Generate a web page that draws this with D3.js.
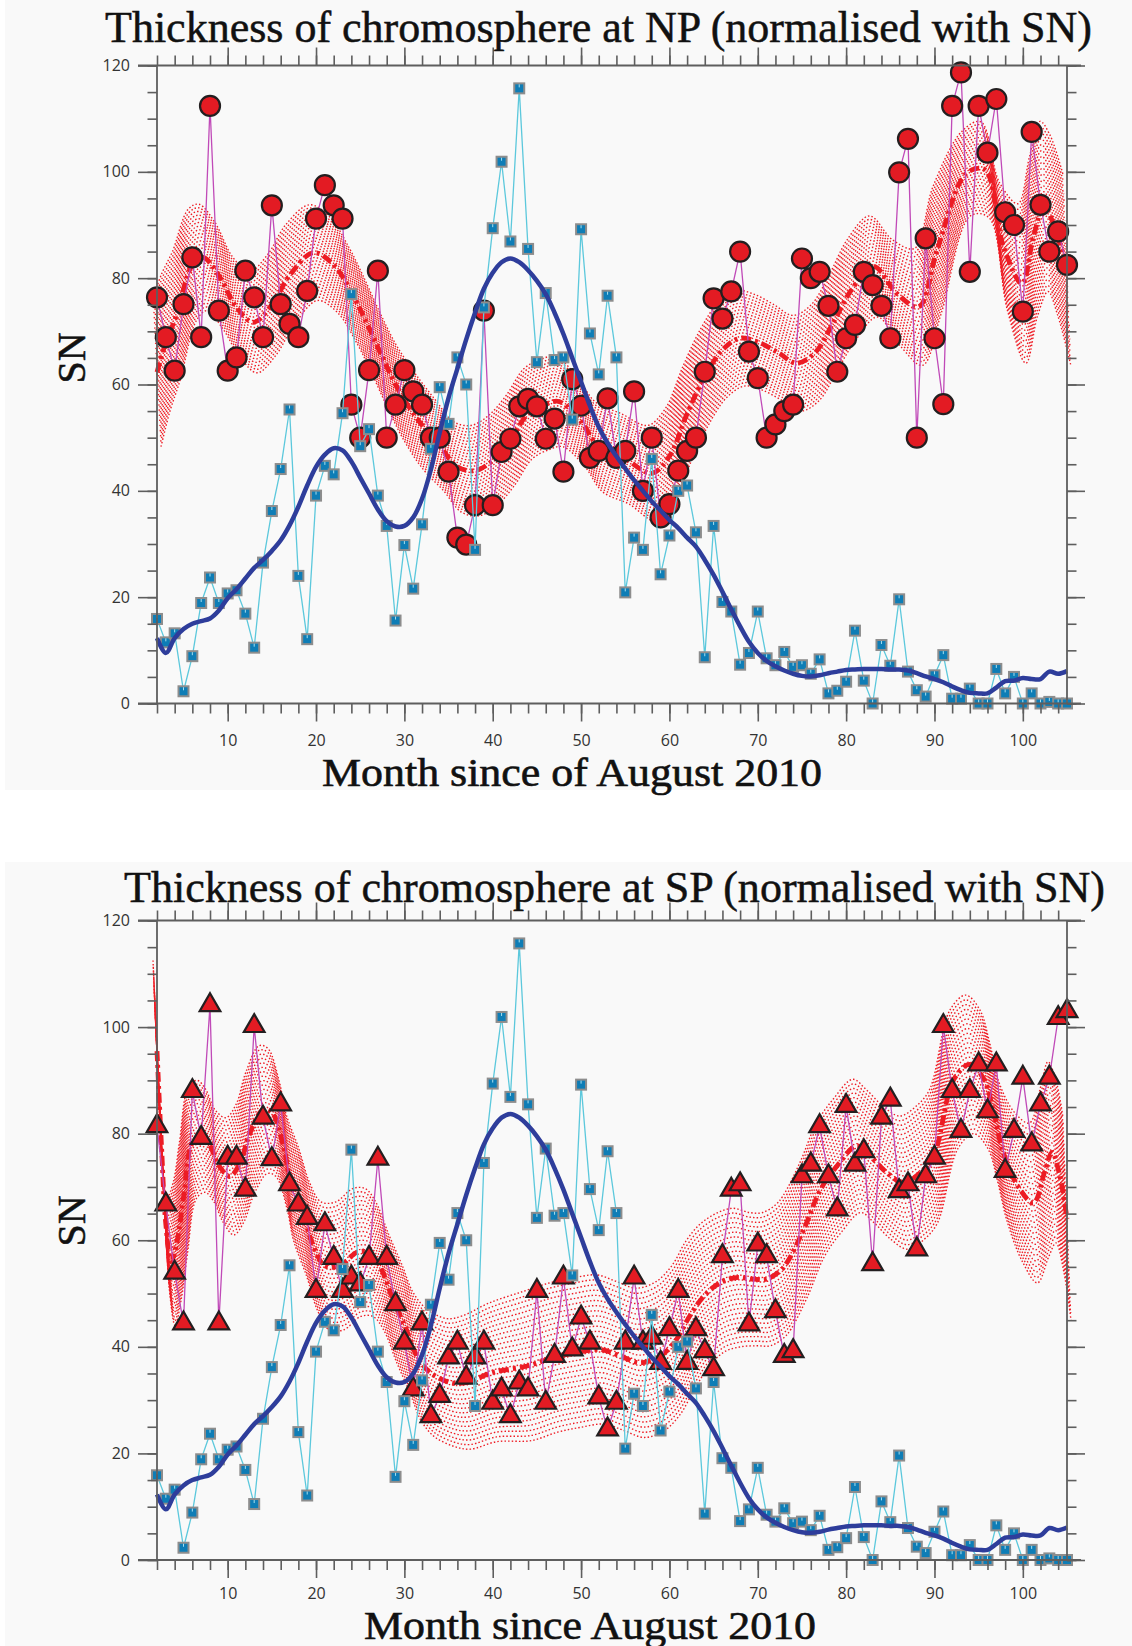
<!DOCTYPE html>
<html>
<head>
<meta charset="utf-8">
<script src="https://cdn.jsdelivr.net/npm/d3@7"></script>
<style>
  body { margin: 0; background: #ffffff; }
</style>
</head>
<body>
<div id="chart"></div>
<script>
// months since August 2010 (x values of every monthly point)
var months = d3.range(2, 106);

// sunspot number, shared by both panels
var snVals = [15.9, 11.5, 13.2, 2.3, 8.9, 18.9, 23.7, 18.9, 20.7, 21.3,
  16.9, 10.5, 26.5, 36.2, 44.1, 55.3, 24.0, 12.1, 39.1, 44.7,
  43.1, 54.6, 77.0, 48.4, 51.6, 39.1, 33.4, 15.6, 29.8, 21.6,
  33.7, 47.9, 59.5, 52.6, 65.1, 60.0, 28.9, 74.5, 89.4, 101.9,
  86.9, 115.7, 85.5, 64.2, 77.2, 64.6, 65.1, 53.4, 89.2, 69.6,
  61.9, 76.7, 65.1, 20.9, 31.2, 28.9, 46.0, 24.3, 31.6, 40.0,
  41.0, 32.2, 8.7, 33.4, 19.1, 17.3, 7.3, 9.5, 17.3, 8.5,
  7.2, 9.7, 6.9, 7.2, 5.6, 8.3, 1.9, 2.4, 4.1, 13.7,
  4.3, 0, 11.0, 7.1, 19.6, 6.0, 2.5, 1.3, 5.3, 9.1,
  0.9, 0.9, 2.8, 0, 0, 6.5, 1.9, 5.0, 0, 1.9,
  0, 0.3, 0, 0];

// smoothed sunspot number
var snSmooth = [12.3, 9.5, 12.3, 14, 15, 15.5, 16, 17.5, 19.8, 21.5,
  23.5, 25.5, 27, 28.7, 30.7, 33.5, 37, 41, 44.5, 46.8,
  48, 47.6, 45.5, 42.5, 39.5, 36.5, 34.3, 33.3, 33.4, 35,
  38.5, 44, 51, 57.5, 63, 68.5, 73.5, 78, 81, 83,
  83.7, 83, 81.5, 79.5, 77, 73.5, 69.5, 65, 60.5, 56,
  52, 49, 46.5, 44.2, 42, 40, 38, 36.3, 34.5, 33,
  31.2, 29.5, 27, 24.2, 21, 17.7, 14.5, 11.6, 9.5, 8,
  7, 6.2, 5.6, 5.2, 5.1, 5.3, 5.7, 6, 6.3, 6.4,
  6.5, 6.5, 6.5, 6.4, 6.4, 6.2, 5.7, 5.1, 4.6, 4,
  3.2, 2.5, 2, 1.9, 1.9, 3, 4.2, 4.3, 4.8, 4.6,
  4.6, 6, 5.6, 6.1];

// chromosphere thickness at the north pole (normalised)
var npVals = [76.4, 68.9, 62.6, 75.1, 83.9, 68.9, 112.4, 73.9, 62.6, 65.1,
  81.4, 76.4, 68.9, 93.7, 75.1, 71.4, 68.9, 77.6, 91.2, 97.5,
  93.7, 91.2, 56.2, 50, 62.7, 81.4, 50, 56.2, 62.7, 58.7,
  56.2, 50, 50, 43.6, 31.2, 29.9, 37.3, 73.9, 37.3, 47.3,
  49.8, 55.9, 57.3, 55.9, 49.8, 53.6, 43.6, 61, 56, 46.2,
  47.5, 57.4, 46.2, 47.5, 58.7, 40, 50, 35, 37.5, 43.8,
  47.5, 50, 62.4, 76.2, 72.4, 77.5, 85, 66.2, 61.2, 50,
  52.5, 55, 56.2, 83.7, 80, 81.2, 74.8, 62.4, 68.7, 71.2,
  81.2, 78.7, 74.8, 68.7, 99.9, 106.2, 50, 87.5, 68.7, 56.3,
  112.4, 118.7, 81.2, 112.4, 103.6, 113.7, 92.4, 90, 73.7, 107.5,
  93.8, 85, 88.8, 82.5];

// smoothed north pole curve and its spread
var npSmMonths = [2, 3, 4.2, 6, 7.2, 9, 11, 12.9, 15, 17,
  19.7, 22, 24.2, 25.7, 27.6, 29.5, 31.7, 34, 36, 38,
  40, 42, 44, 46, 47.5, 50, 52, 55, 58, 60,
  62, 64, 66, 68, 70, 72.3, 74.4, 76.5, 78.5, 80.6,
  83.1, 85.7, 88.2, 90.3, 93.6, 95.7, 97.8, 99.9, 101.2, 102.4,
  103.5, 105];
var npSmVals = [62.3, 67.9, 73, 82.5, 83.9, 80.5, 74.5, 71.7, 75, 80.5,
  84.8, 82.5, 76.7, 71.7, 64.8, 58.5, 53, 48.5, 44.5, 43.8,
  45.7, 49.5, 54.5, 56.3, 56.8, 53, 48.3, 46, 43.3, 46.5,
  54.5, 61.5, 66.5, 68.7, 68, 66, 64, 66, 71.5, 77.8,
  82.2, 77.2, 74.6, 85.3, 99.7, 100.4, 86, 79, 87.8, 93.5,
  90, 81.5];
var npSpread = [14, 13, 12, 10.5, 10, 10, 9.5, 9.5, 9.5, 9.5,
  9, 9, 9, 9, 9, 9, 9, 8.5, 8.5, 8.5,
  8.5, 8.5, 8.5, 8.5, 8.5, 8.5, 8.5, 8.5, 9, 9,
  9, 9, 9, 9, 9, 9, 9, 9, 9, 9.5,
  9.5, 10, 11, 12, 8, 9, 12, 15, 15, 16,
  17, 18];

// chromosphere thickness at the south pole (normalised)
var spVals = [81.4, 66.7, 53.9, 44.4, 88, 79.2, 104.1, 44.4, 75.5, 75.5,
  69.5, 100.2, 83, 75.2, 85.5, 70.5, 66.7, 64.2, 50.5, 63,
  56.7, 50.5, 53, 51.7, 56.7, 75.3, 56.7, 48, 40.8, 32,
  44.4, 27, 30.8, 38, 40.8, 34.2, 38, 40.8, 29.5, 32,
  27, 33.3, 32, 50.5, 29.5, 38.3, 53, 39.5, 45.5, 40.8,
  30.5, 24.5, 29.5, 40.8, 53, 40.8, 41.7, 37, 43.3, 50.5,
  37, 43.3, 39.2, 35.8, 57, 69.5, 70.5, 44.2, 59.2, 57,
  46.7, 38.3, 39.2, 72, 74.2, 81.4, 72, 65.8, 85.2, 74.2,
  76.7, 55.5, 83, 86.4, 69.2, 70.5, 58.3, 72, 75.5, 100.2,
  88, 80.5, 88, 93, 84.2, 93, 73, 80.5, 90.5, 78,
  85.5, 90.5, 101.7, 103];

// smoothed south pole curve and its spread
var spSmMonths = [2, 2.5, 3, 3.6, 4.3, 5, 6, 7, 8, 9,
  10.25, 11.4, 12.5, 14, 15, 16.3, 17, 18.5, 19.7, 21,
  22.7, 24.6, 26, 27.2, 28.7, 30.2, 31.4, 32.9, 35.2, 37,
  40, 43.9, 46.9, 49.5, 52.2, 54.4, 56.7, 59, 60.8, 62.3,
  63.9, 65.7, 67.6, 69.5, 71, 72.5, 73.3, 75.2, 77.1, 79,
  81.2, 82.7, 84.6, 86.5, 88.4, 89.9, 92.2, 94, 95.6, 96.7,
  97.8, 99.5, 101.2, 102.5, 103.3, 104.2, 105];
var spSmVals = [95.5, 78, 63, 56, 60, 68, 78.3, 79.5, 77.7, 74,
  72, 74.5, 80, 84.5, 84, 77.7, 72, 65.2, 58.9, 55.2,
  55.2, 57.7, 57.7, 55.2, 49, 43.3, 38.3, 35.2, 33.3, 33.3,
  35.2, 36.4, 38, 38.9, 39.5, 38.3, 37, 38.3, 41.4, 45.8,
  49.5, 52, 53, 52.7, 52.7, 54.2, 55.8, 62, 69.5, 74,
  77.7, 75.8, 72.7, 70.8, 72.7, 75.8, 90.2, 93, 90.2, 84,
  76.4, 70, 67, 73, 76.5, 72, 64];
var spSpread = [17, 15, 13, 12, 11, 10.5, 10.5, 10.5, 10.5, 10.5,
  11, 11, 11.5, 12, 12, 12, 12, 12, 12, 12,
  12, 12, 12, 12, 12, 12, 12, 12, 12, 12.5,
  13, 14, 14, 14, 14, 14, 14, 14, 14, 14,
  13.5, 13, 13, 12.5, 12.5, 12.5, 12.5, 12.5, 12.5, 12.5,
  12.5, 12.5, 12.5, 12.5, 12.5, 12.5, 13, 13, 13, 13,
  13, 14, 15, 16, 17, 18, 19];

// tick labels
var xTickLabels = [10, 20, 30, 40, 50, 60, 70, 80, 90, 100];
var yTickLabels = [0, 20, 40, 60, 80, 100, 120];

var svgWidth = 1132;
var svgHeight = 1646;

var svg = d3.select("#chart")
  .append("svg")
  .attr("width", svgWidth)
  .attr("height", svgHeight);

// light grey panels behind each figure
svg.append("rect").attr("x", 5).attr("y", 0).attr("width", 1127).attr("height", 790).attr("fill", "#f9f9f9");
svg.append("rect").attr("x", 5).attr("y", 862).attr("width", 1127).attr("height", 784).attr("fill", "#f9f9f9");

var xScale = d3.scaleLinear().domain([2, 105]).range([157, 1067]);

var axisColor = "#5e5e5e";

function drawPanel(cfg) {
  var y = d3.scaleLinear().domain([0, 120]).range(cfg.yRange);
  var g = svg.append("g");

  // spread band: many dotted copies of the smoothed curve
  var smooth = cfg.smMonths.map(function(m, i) {
    return { m: m, v: cfg.smVals[i], s: cfg.spread[i] };
  });
  var nCopies = 30;
  var bandG = g.append("g");
  for (var k = 0; k < nCopies; k++) {
    var t = -1 + 2 * k / (nCopies - 1);
    var copyLine = d3.line()
      .x(d => xScale(d.m - t * 0.45))
      .y(d => y(d.v + t * d.s))
      .curve(d3.curveCatmullRom);
    bandG.append("path")
      .attr("d", copyLine(smooth))
      .attr("fill", "none")
      .attr("stroke", "#ef1c24")
      .attr("stroke-width", 1.4)
      .attr("stroke-dasharray", "1.5,2.1");
  }

  // smoothed curve, dash-dot
  var smLine = d3.line()
    .x(d => xScale(d.m))
    .y(d => y(d.v))
    .curve(d3.curveCatmullRom);
  g.append("path")
    .attr("d", smLine(smooth))
    .attr("fill", "none")
    .attr("stroke", "#ec1c24")
    .attr("stroke-width", 4.8)
    .attr("stroke-dasharray", "10,4,3,4");

  // polar measurements
  var red = months.map((m, i) => ({ m: m, v: cfg.redVals[i] }));
  var lin = d3.line().x(d => xScale(d.m)).y(d => y(d.v));
  g.append("path")
    .attr("d", lin(red))
    .attr("fill", "none")
    .attr("stroke", "#c04ab8")
    .attr("stroke-width", 1.3);

  if (cfg.marker === "circle") {
    g.selectAll("circle.red")
      .data(red)
      .enter()
      .append("circle")
      .attr("class", "red")
      .attr("cx", d => xScale(d.m))
      .attr("cy", d => y(d.v))
      .attr("r", 10)
      .attr("fill", "#e31b23")
      .attr("stroke", "#231f20")
      .attr("stroke-width", 2.2);
  } else {
    var tri = d3.symbol().type(d3.symbolTriangle).size(185);
    g.selectAll("path.red")
      .data(red)
      .enter()
      .append("path")
      .attr("class", "red")
      .attr("d", tri)
      .attr("transform", d => `translate(${xScale(d.m)},${y(d.v)})`)
      .attr("fill", "#e31b23")
      .attr("stroke", "#231f20")
      .attr("stroke-width", 2.2)
      .attr("stroke-linejoin", "miter");
  }

  // sunspot number
  var sn = months.map((m, i) => ({ m: m, v: snVals[i] }));
  g.append("path")
    .attr("d", lin(sn))
    .attr("fill", "none")
    .attr("stroke", "#5cc8dc")
    .attr("stroke-width", 1.3);

  g.selectAll("rect.sn")
    .data(sn)
    .enter()
    .append("rect")
    .attr("class", "sn")
    .attr("x", d => xScale(d.m) - 5)
    .attr("y", d => y(d.v) - 5)
    .attr("width", 10)
    .attr("height", 10)
    .attr("fill", "#0e7db6")
    .attr("stroke", "#8d8d8d")
    .attr("stroke-width", 2);

  g.selectAll("line.snmark")
    .data(sn)
    .enter()
    .append("line")
    .attr("class", "snmark")
    .attr("x1", d => xScale(d.m))
    .attr("x2", d => xScale(d.m))
    .attr("y1", d => y(d.v) - 4)
    .attr("y2", d => y(d.v) - 1)
    .attr("stroke", "#a8e0ef")
    .attr("stroke-width", 1);

  var snSm = months.map((m, i) => ({ m: m, v: snSmooth[i] }));
  g.append("path")
    .attr("d", d3.line().x(d => xScale(d.m)).y(d => y(d.v)).curve(d3.curveCatmullRom)(snSm))
    .attr("fill", "none")
    .attr("stroke", "#2e3d9b")
    .attr("stroke-width", 4.5)
    .attr("stroke-linejoin", "round");

  // frame
  var ax = svg.append("g").attr("stroke", axisColor).attr("stroke-width", 1.8);
  ax.append("line").attr("x1", 138).attr("x2", 1081).attr("y1", y(120)).attr("y2", y(120));
  ax.append("line").attr("x1", 138).attr("x2", 1081).attr("y1", y(0)).attr("y2", y(0));
  ax.append("line").attr("x1", xScale(2)).attr("x2", xScale(2)).attr("y1", y(0)).attr("y2", y(120));
  ax.append("line").attr("x1", xScale(105)).attr("x2", xScale(105)).attr("y1", y(0)).attr("y2", y(120));

  function styleAxis(sel) {
    sel.select(".domain").remove();
    sel.attr("color", axisColor)
      .attr("font-family", "'Open Sans', 'Noto Sans', sans-serif")
      .attr("font-size", 16);
    sel.selectAll("line").attr("stroke-width", 1.6);
    sel.selectAll("text").attr("fill", "#333333");
  }
  // tick marks only, no labels
  function bareAxis(sel) {
    styleAxis(sel);
    sel.selectAll("text").remove();
  }

  var minorX = d3.range(2, 105, 2);
  var minorY = d3.range(0, 121, 5);

  svg.append("g").attr("transform", `translate(0,${y(0)})`)
    .call(d3.axisBottom(xScale).tickValues(minorX).tickSize(10))
    .call(bareAxis);
  svg.append("g").attr("transform", `translate(0,${y(0)})`)
    .call(d3.axisBottom(xScale).tickValues(xTickLabels).tickSize(18).tickPadding(cfg.xPad))
    .call(styleAxis);

  svg.append("g").attr("transform", `translate(0,${y(120)})`)
    .call(d3.axisTop(xScale).tickValues(minorX).tickSize(10))
    .call(bareAxis);
  svg.append("g").attr("transform", `translate(0,${y(120)})`)
    .call(d3.axisTop(xScale).tickValues(xTickLabels).tickSize(18))
    .call(bareAxis);

  svg.append("g").attr("transform", `translate(${xScale(2)},0)`)
    .call(d3.axisLeft(y).tickValues(minorY).tickSize(9.5))
    .call(bareAxis);
  svg.append("g").attr("transform", `translate(${xScale(2)},0)`)
    .call(d3.axisLeft(y).tickValues(yTickLabels).tickSize(19).tickPadding(8))
    .call(styleAxis);

  svg.append("g").attr("transform", `translate(${xScale(105)},0)`)
    .call(d3.axisRight(y).tickValues(minorY).tickSize(9.5))
    .call(bareAxis);
  svg.append("g").attr("transform", `translate(${xScale(105)},0)`)
    .call(d3.axisRight(y).tickValues(yTickLabels).tickSize(18))
    .call(bareAxis);

  // texts
  svg.append("text")
    .attr("x", cfg.titleX)
    .attr("y", cfg.titleY)
    .attr("textLength", cfg.titleW)
    .attr("lengthAdjust", "spacingAndGlyphs")
    .attr("font-family", "'Liberation Serif', 'Times New Roman', serif")
    .attr("font-size", 44)
    .attr("fill", "#111")
    .attr("stroke", "#111")
    .attr("stroke-width", 0.5)
    .text(cfg.title);

  svg.append("text")
    .attr("x", cfg.xlabX)
    .attr("y", cfg.xlabY)
    .attr("textLength", cfg.xlabW)
    .attr("lengthAdjust", "spacingAndGlyphs")
    .attr("font-family", "'Liberation Serif', 'Times New Roman', serif")
    .attr("font-size", 39)
    .attr("fill", "#111")
    .attr("stroke", "#111")
    .attr("stroke-width", 0.6)
    .text(cfg.xlabel);

  svg.append("text")
    .attr("transform", `translate(85,${cfg.snY}) rotate(-90)`)
    .attr("text-anchor", "middle")
    .attr("font-family", "'Liberation Serif', 'Times New Roman', serif")
    .attr("font-size", 40)
    .attr("fill", "#111")
    .attr("stroke", "#111")
    .attr("stroke-width", 0.5)
    .text("SN");
}

drawPanel({
  yRange: [703.5, 65.5],
  redVals: npVals,
  smMonths: npSmMonths,
  smVals: npSmVals,
  spread: npSpread,
  marker: "circle",
  xPad: 13,
  title: "Thickness of chromosphere at NP (normalised with SN)",
  titleX: 105, titleY: 42, titleW: 987,
  xlabel: "Month since of August 2010",
  xlabX: 322, xlabY: 786, xlabW: 500,
  snY: 358
});

drawPanel({
  yRange: [1560, 920.5],
  redVals: spVals,
  smMonths: spSmMonths,
  smVals: spSmVals,
  spread: spSpread,
  marker: "triangle",
  xPad: 9.5,
  title: "Thickness of chromosphere at SP (normalised with SN)",
  titleX: 124, titleY: 902, titleW: 981,
  xlabel: "Month since August 2010",
  xlabX: 364, xlabY: 1639, xlabW: 452,
  snY: 1221
});
</script>
</body>
</html>
